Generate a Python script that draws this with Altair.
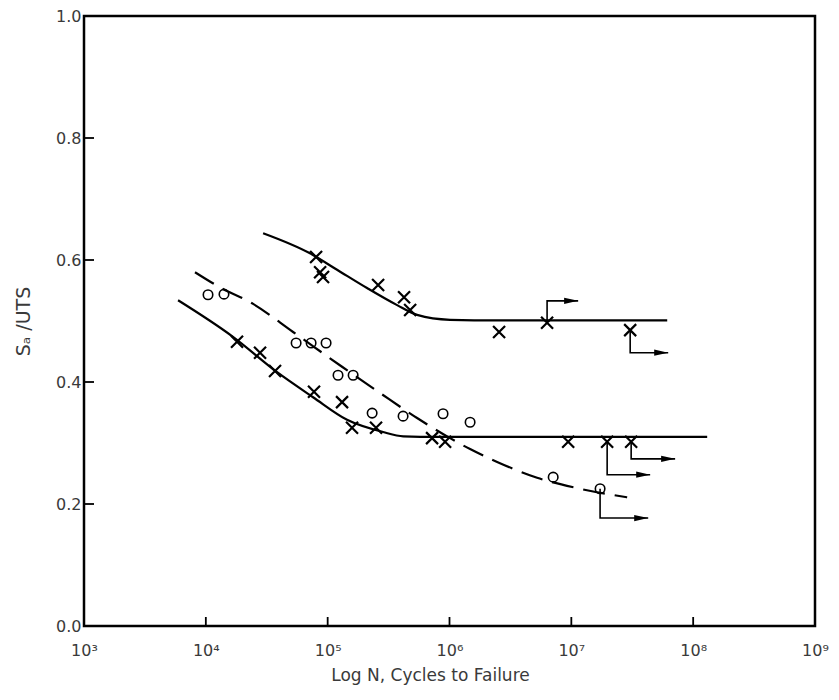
import altair as alt
import pandas as pd

# ---------------- data ----------------
# x values are log10(N), y values are Sa/UTS
upper_curve_logN = [4.47, 4.855, 5.077, 5.323, 5.57, 5.734, 6.005, 6.4, 7.0, 7.787]
upper_curve_S = [0.644, 0.611, 0.584, 0.554, 0.526, 0.510, 0.502, 0.501, 0.501, 0.501]

lower_curve_logN = [3.772, 4.223, 4.585, 4.880, 5.159, 5.455, 5.62, 5.9, 7.0, 8.115]
lower_curve_S = [0.534, 0.474, 0.416, 0.375, 0.338, 0.318, 0.311, 0.310, 0.310, 0.310]

dashed_curve_logN = [3.911, 4.100, 4.388, 4.716, 5.118, 5.430, 5.734, 6.005, 6.169,
                     6.391, 6.719, 7.048, 7.458]
dashed_curve_S = [0.580, 0.557, 0.528, 0.482, 0.425, 0.382, 0.341, 0.308, 0.290,
                  0.269, 0.243, 0.226, 0.211]

cross_logN = [4.905, 4.938, 4.962, 5.414, 5.627, 5.677, 6.407, 6.801, 7.483,
              4.256, 4.445, 4.568, 4.888, 5.118, 5.200, 5.397, 5.857, 5.964,
              6.974, 7.294, 7.491]
cross_S = [0.605, 0.580, 0.572, 0.559, 0.539, 0.518, 0.482, 0.497, 0.485,
           0.466, 0.448, 0.418, 0.384, 0.367, 0.325, 0.325, 0.308, 0.302,
           0.302, 0.302, 0.302]

circle_logN = [4.018, 4.149, 4.741, 4.864, 4.987, 5.085, 5.209, 5.365, 5.619,
               5.947, 6.169, 6.851, 7.236]
circle_S = [0.543, 0.544, 0.464, 0.464, 0.464, 0.411, 0.411, 0.349, 0.344,
            0.348, 0.334, 0.244, 0.225]

# run-out (did not fail) arrows: start point, level of the horizontal leg, end of arrow
runout_start_logN = [6.801, 7.483, 7.294, 7.491, 7.236]
runout_start_S = [0.497, 0.485, 0.302, 0.302, 0.225]
runout_corner_S = [0.533, 0.448, 0.248, 0.274, 0.177]
runout_end_logN = [7.056, 7.795, 7.647, 7.852, 7.631]

tick_exponents = [3, 4, 5, 6, 7, 8, 9]
tick_labels = ["10³", "10⁴", "10⁵", "10⁶", "10⁷", "10⁸", "10⁹"]
y_ticks = [0.0, 0.2, 0.4, 0.6, 0.8, 1.0]

# ---------------- tables ----------------
solid_df = pd.DataFrame({
    "logN": upper_curve_logN + lower_curve_logN,
    "S": upper_curve_S + lower_curve_S,
    "curve": ["upper"] * len(upper_curve_logN) + ["lower"] * len(lower_curve_logN),
})
dashed_df = pd.DataFrame({"logN": dashed_curve_logN, "S": dashed_curve_S})
cross_df = pd.DataFrame({"logN": cross_logN, "S": cross_S})
circle_df = pd.DataFrame({"logN": circle_logN, "S": circle_S})

arrow_rows = []
for i in range(len(runout_start_logN)):
    arrow_rows.append({"id": i, "step": 0, "logN": runout_start_logN[i], "S": runout_start_S[i]})
    arrow_rows.append({"id": i, "step": 1, "logN": runout_start_logN[i], "S": runout_corner_S[i]})
    arrow_rows.append({"id": i, "step": 2, "logN": runout_end_logN[i], "S": runout_corner_S[i]})
arrow_df = pd.DataFrame(arrow_rows)
head_df = pd.DataFrame({"logN": runout_end_logN, "S": runout_corner_S})

xtick_df = pd.DataFrame({"logN": tick_exponents})
ytick_df = pd.DataFrame({"S": y_ticks})

# ---------------- axes ----------------
expr = "''"
for e, lab in zip(reversed(tick_exponents), reversed(tick_labels)):
    expr = f"datum.value == {e} ? '{lab}' : ({expr})"

FONT = "DejaVu Sans"
TXT = "#3a3a3a"
W, H = 731, 610

x_scale = alt.Scale(domain=[3, 9], nice=False, zero=False)
y_scale = alt.Scale(domain=[0, 1], nice=False)

x_enc = alt.X(
    "logN:Q", scale=x_scale,
    axis=alt.Axis(
        values=tick_exponents, labelExpr=expr, title="Log N, Cycles to Failure",
        ticks=False, tickSize=0, domain=False, grid=False,
        labelPadding=16, labelFontSize=16, labelFont=FONT,
        labelFlush=False, labelColor=TXT, titleFont=FONT, titleFontSize=17,
        titleFontWeight="normal", titleColor=TXT, titlePadding=9, titleX=346,
    ),
)
y_enc = alt.Y(
    "S:Q", scale=y_scale,
    axis=alt.Axis(
        values=y_ticks, format=".1f", title="Sₐ /UTS",
        ticks=False, tickSize=0, domain=False, grid=False,
        labelPadding=3, labelFontSize=16, labelFont=FONT,
        labelColor=TXT, titleFont=FONT, titleFontSize=19, titleFontWeight="normal",
        titleColor=TXT, titlePadding=22,
    ),
)

X_PATH = "M-1,-1L1,1M-1,1L1,-1"
HEAD_PATH = "M-2,-0.45L0,0L-2,0.45Z"

# inward tick marks
xticks = alt.Chart(xtick_df).mark_rule(color="black", strokeWidth=1.8).encode(
    x=x_enc, y=alt.value(H - 9), y2=alt.value(H),
)
yticks = alt.Chart(ytick_df).mark_rule(color="black", strokeWidth=1.8).encode(
    y=y_enc, x=alt.value(0), x2=alt.value(10),
)

solid = alt.Chart(solid_df).mark_line(
    color="black", strokeWidth=2.2, interpolate="monotone"
).encode(x=x_enc, y=y_enc, detail="curve:N")

dashed = alt.Chart(dashed_df).mark_line(
    color="black", strokeWidth=2.2, strokeDash=[22, 10], interpolate="monotone"
).encode(x=x_enc, y=y_enc)

arrows = alt.Chart(arrow_df).mark_line(
    color="black", strokeWidth=1.6
).encode(x=x_enc, y=y_enc, detail="id:N", order="step:Q")

heads = alt.Chart(head_df).mark_point(
    shape=HEAD_PATH, size=196, filled=True, color="black", opacity=1
).encode(x=x_enc, y=y_enc)

crosses = alt.Chart(cross_df).mark_point(
    shape=X_PATH, size=144, filled=False, color="black", strokeWidth=2.2, opacity=1
).encode(x=x_enc, y=y_enc)

circles = alt.Chart(circle_df).mark_point(
    shape="circle", size=90, filled=False, color="black", strokeWidth=1.6, opacity=1
).encode(x=x_enc, y=y_enc)

chart = alt.layer(solid, dashed, arrows, heads, crosses, circles, xticks, yticks).properties(
    width=W, height=H,
    autosize=alt.AutoSizeParams(type="none"),
    padding={"left": 76, "top": 8, "right": 16, "bottom": 62},
    background="white",
).configure_view(stroke="black", strokeWidth=2.5)

chart.save("out.html", embed_options={"renderer": "svg", "actions": False})
